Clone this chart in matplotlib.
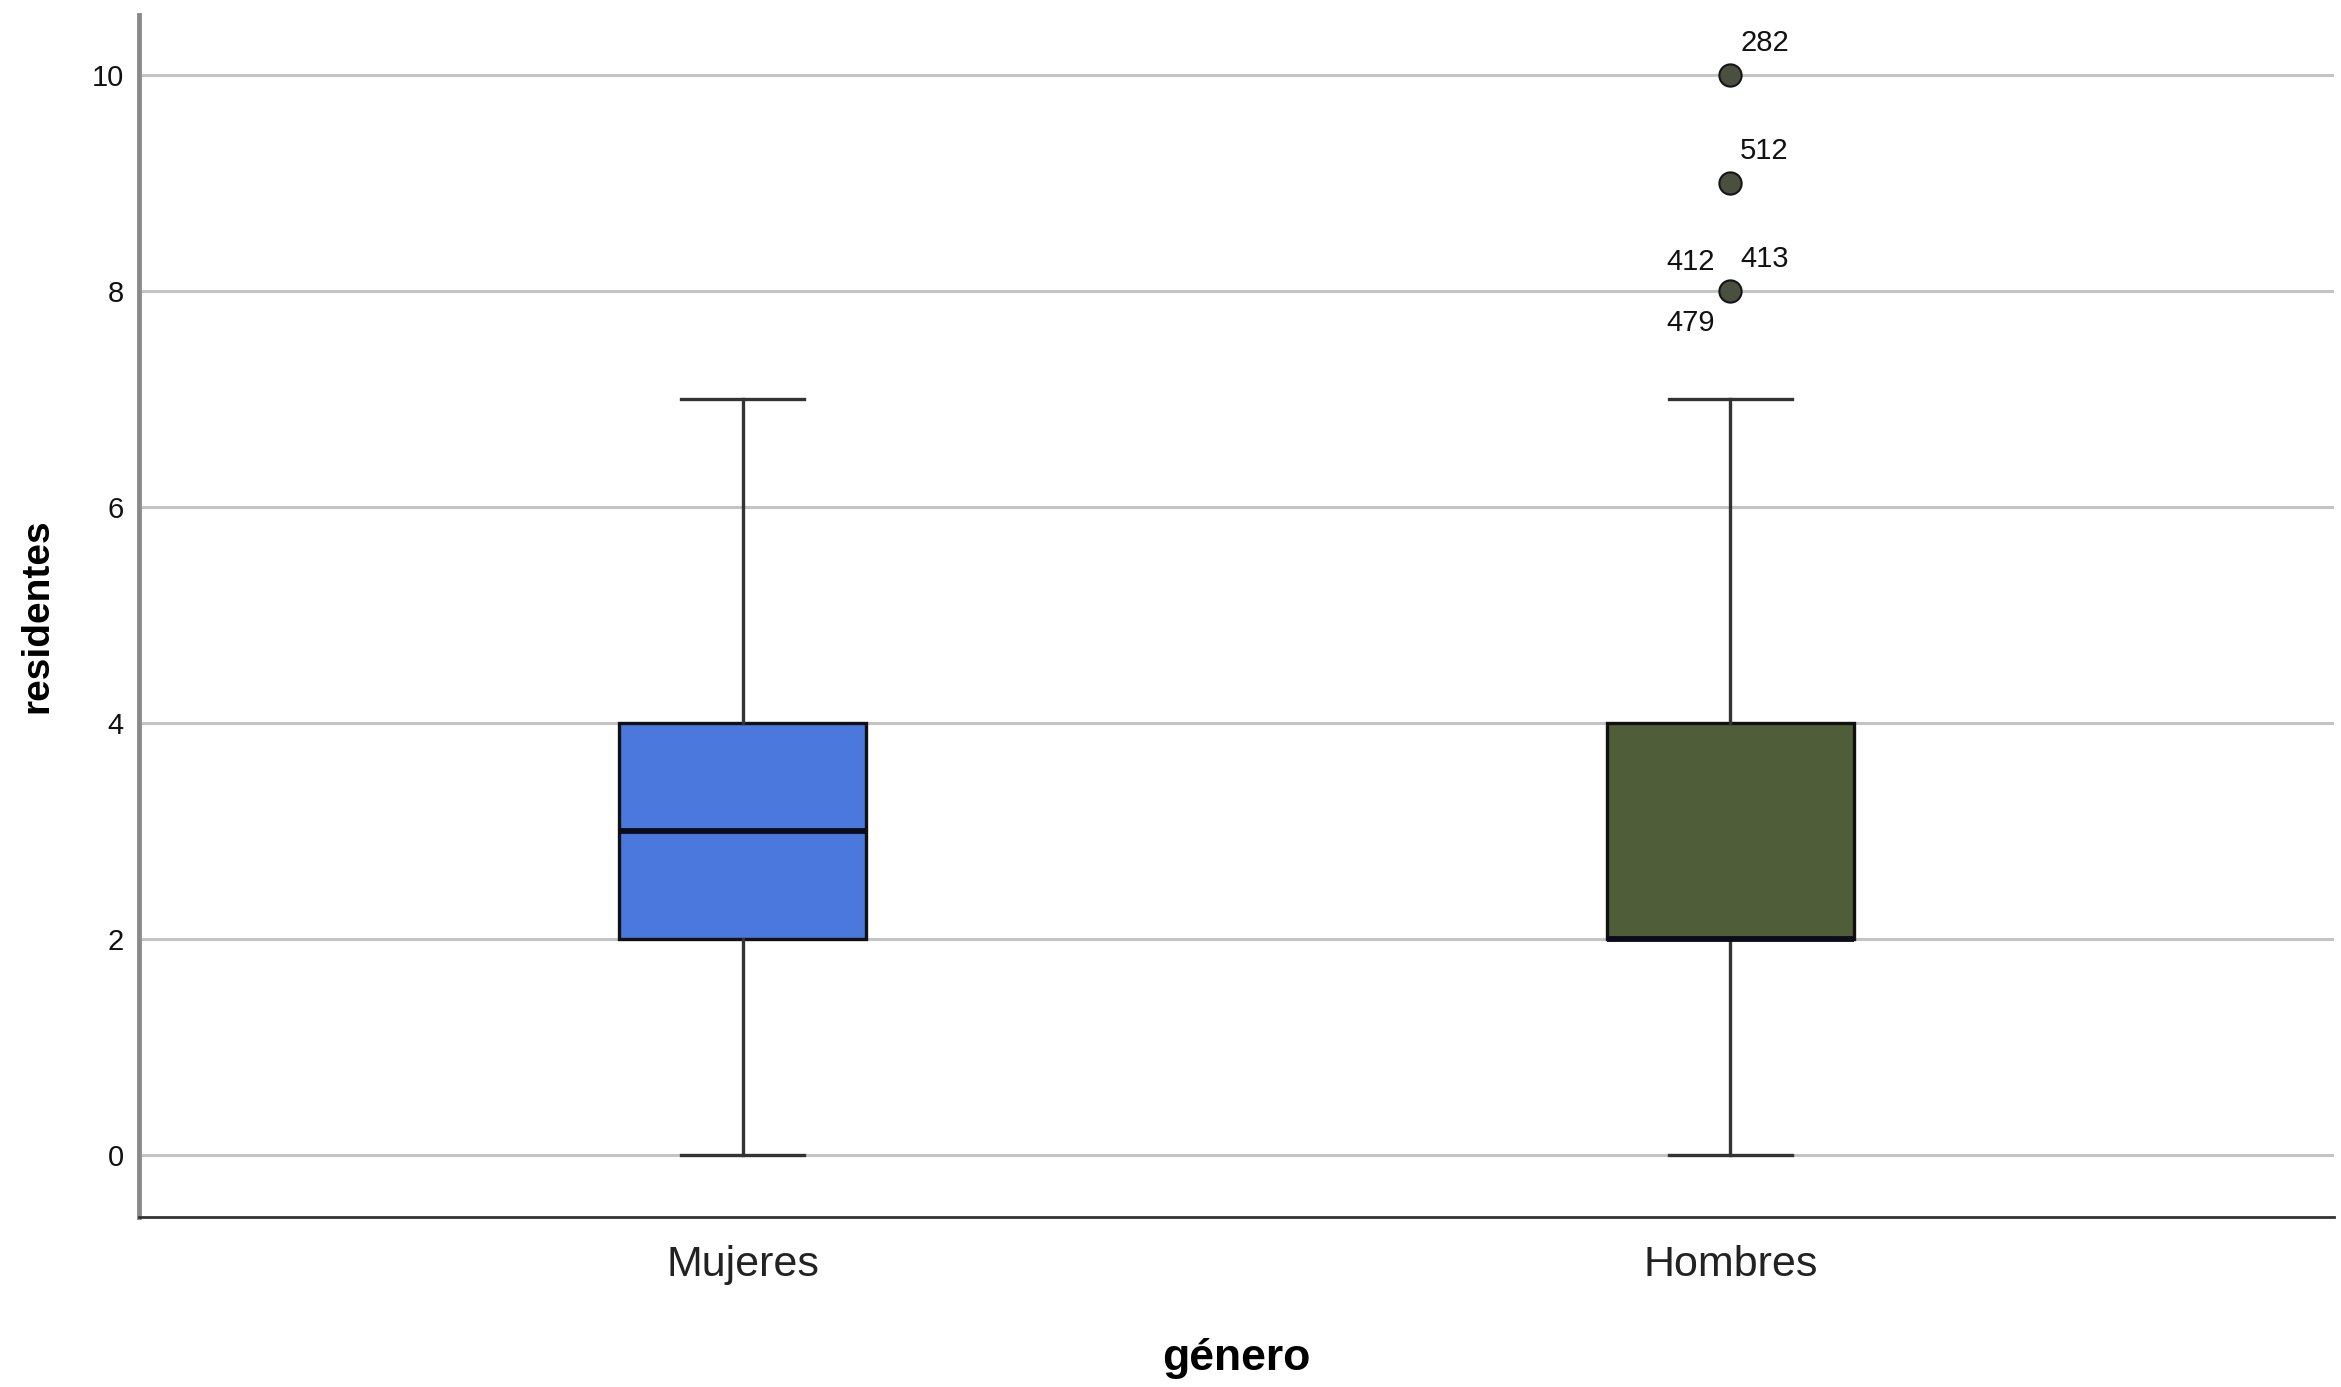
import matplotlib
matplotlib.use("Agg")
import matplotlib.pyplot as plt
from matplotlib import font_manager

# ---- data ----
categories = ["Mujeres", "Hombres"]
q1 = [2, 2]
median = [3, 2]
q3 = [4, 4]
whisker_low = [0, 0]
whisker_high = [7, 7]
outlier_values = [[], [10, 9, 8]]
outlier_labels = [[], [("282", 10, "above_right"), ("512", 9, "above_right"),
                       ("413", 8, "above_right"), ("412", 8, "above_left"),
                       ("479", 8, "below_left")]]
box_colors = ["#4A78DC", "#4F5E39"]

names = {f.name for f in font_manager.fontManager.ttflist}
narrow = "Liberation Sans Narrow" in names
base_font = "Liberation Sans"
label_font = "Liberation Sans Narrow" if narrow else "Liberation Sans"
plt.rcParams["font.family"] = [base_font, "DejaVu Sans"]

fig = plt.figure(figsize=(23.41, 13.87), dpi=100)
ax = fig.add_axes([0.0594, 0.1226, 0.9376, 0.8666])

stats = []
for i, c in enumerate(categories):
    stats.append(dict(label=c, q1=q1[i], med=median[i], q3=q3[i],
                      whislo=whisker_low[i], whishi=whisker_high[i],
                      fliers=outlier_values[i]))

positions = list(range(len(categories)))
bp = ax.bxp(stats, positions=positions, widths=0.25, patch_artist=True,
            showfliers=True,
            boxprops=dict(edgecolor="#111111", linewidth=2.4),
            medianprops=dict(color="#0b0b1a", linewidth=4.2, solid_capstyle="butt"),
            whiskerprops=dict(color="#333333", linewidth=2.4),
            capprops=dict(color="#333333", linewidth=2.4),
            flierprops=dict(marker="o", markersize=16, markerfacecolor="#4a5040",
                            markeredgecolor="#151515", markeredgewidth=1.5,
                            linestyle="none"))
for patch, col in zip(bp["boxes"], box_colors):
    patch.set_facecolor(col)
for art in bp["whiskers"] + bp["caps"] + bp["medians"] + bp["boxes"] + bp["fliers"]:
    art.set_zorder(3)

# outlier case labels
offsets = {"above_right": (7, 13, "left", "bottom"),
           "above_left": (-11, 11, "right", "bottom"),
           "below_left": (-11, -13, "right", "top")}
for i, labs in enumerate(outlier_labels):
    for text, val, where in labs:
        dx, dy, ha, va = offsets[where]
        ax.annotate(text, xy=(positions[i], val), xytext=(dx, dy),
                    textcoords="offset points", ha=ha, va=va,
                    fontsize=21, color="#111111", zorder=4)

ax.set_xlim(-0.611, 1.611)
ax.set_ylim(-0.574, 10.556)
ax.set_yticks([0, 2, 4, 6, 8, 10])
ax.set_xticks(positions)
ax.set_xticklabels(categories, fontsize=36 if narrow else 31,
                   family=[label_font, "DejaVu Sans"], color="#222222")
ax.tick_params(axis="y", length=0, pad=11, labelsize=21, labelcolor="#111111")
ax.tick_params(axis="x", length=0, pad=20.5)

ax.yaxis.grid(True, color="#c4c4c4", linewidth=2.2)
ax.xaxis.grid(False)
ax.set_axisbelow(True)

for s in ["top", "right"]:
    ax.spines[s].set_visible(False)
ax.spines["left"].set_color("#8a8a8a")
ax.spines["left"].set_linewidth(3.5)
ax.spines["bottom"].set_color("#333333")
ax.spines["bottom"].set_linewidth(2.0)

ax.set_ylabel("residentes", fontsize=34 if narrow else 28, fontweight="bold",
              family=[label_font, "DejaVu Sans"], labelpad=26)
ax.set_xlabel("género", fontsize=38 if narrow else 32, fontweight="bold",
              family=[label_font, "DejaVu Sans"], labelpad=38)

fig.savefig("out.png", dpi=100, facecolor="white")
